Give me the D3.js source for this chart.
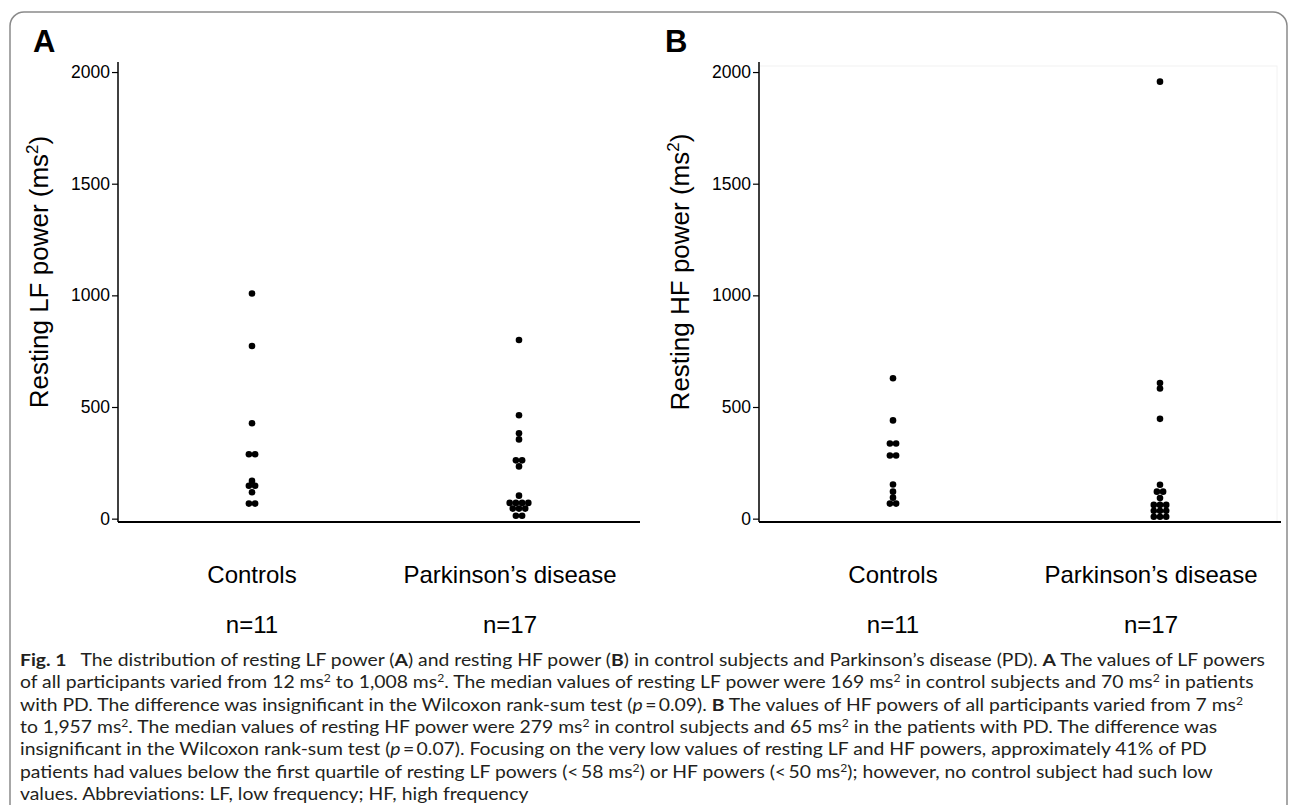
<!DOCTYPE html>
<meta charset="utf-8">
<script src="https://d3js.org/d3.v7.min.js" charset="utf-8"></script>
<style>
  body { margin: 0; background: #fff; }
</style>
<body>
<div id="draw"></div>

<script>

  // ---- data ----
  var categories = ["Controls", "Parkinson\u2019s disease"];
  var groupSizes = ["n=11", "n=17"];
  var yTicks = [0, 500, 1000, 1500, 2000];

  var lfControls  = [66, 69, 118, 145, 150, 169, 285, 292, 427, 773, 1008];
  var lfParkinson = [12, 14, 42, 45, 48, 66, 70, 72, 75, 103, 234, 258, 264, 355, 382, 463, 800];
  var hfControls  = [65, 70, 94, 121, 153, 279, 286, 333, 340, 440, 629];
  var hfParkinson = [7, 8, 10, 32, 35, 38, 58, 62, 65, 92, 118, 124, 152, 447, 583, 607, 1957];

  var panelLetters = ["A", "B"];
  var yTitles = ["Resting LF power (ms", "Resting HF power (ms"];

  // caption, one entry per printed line; **bold**, _italic_, ^2 superscript
  var captionLines = [
    "**Fig. 1**\u2002 The distribution of resting LF power (**A**) and resting HF power (**B**) in control subjects and Parkinson\u2019s disease (PD). **A** The values of LF powers",
    "of all participants varied from 12 ms^2 to 1,008 ms^2. The median values of resting LF power were 169 ms^2 in control subjects and 70 ms^2 in patients",
    "with PD. The difference was insignificant in the Wilcoxon rank-sum test (_p_\u2009=\u20090.09). **B** The values of HF powers of all participants varied from 7 ms^2",
    "to 1,957 ms^2. The median values of resting HF power were 279 ms^2 in control subjects and 65 ms^2 in the patients with PD. The difference was",
    "insignificant in the Wilcoxon rank-sum test (_p_\u2009=\u20090.07). Focusing on the very low values of resting LF and HF powers, approximately 41% of PD",
    "patients had values below the first quartile of resting LF powers (<\u200958 ms^2) or HF powers (<\u200950 ms^2); however, no control subject had such low",
    "values. Abbreviations: LF, low frequency; HF, high frequency"
  ];

  var width = 1290;
  var height = 805;
  var margins = {top: 62, bottom: 283, left: 118, right: 650}; // per panel
  var panelOffset = 641;
  var plotWidth = 522;
  var plotHeight = height - margins.top - margins.bottom; // 460

  var svg = d3.select("#draw")
    .append("svg")
    .attr("width", width)
    .attr("height", height)
    .style("font-family", "'Liberation Sans', Arial, sans-serif");

  // outer rounded frame
  svg.append("rect")
    .attr("x", 10).attr("y", 12)
    .attr("width", 1277).attr("height", 830)
    .attr("rx", 14)
    .attr("fill", "none")
    .attr("stroke", "#8a8a8a")
    .attr("stroke-width", 1.5);

  var y = d3.scaleLinear().domain([-15, 2045]).range([plotHeight, 0]);
  var x = d3.scalePoint().domain(categories).range([134, 401]);

  // dotplot binning (dot density, stacked centred)
  var binDots = function(values, w) {
    var s = values.slice().sort(function(a, b) { return a - b; });
    var bins = [], cur = null;
    s.forEach(function(v) {
      if (!cur || v >= cur.start + w) { cur = {start: v, vals: []}; bins.push(cur); }
      cur.vals.push(v);
    });
    var out = [];
    bins.forEach(function(b) {
      var c = (b.vals[0] + b.vals[b.vals.length - 1]) / 2;
      b.vals.forEach(function(v, i) {
        out.push({value: v, center: c, k: i - (b.vals.length - 1) / 2});
      });
    });
    return out;
  };

  var drawPanel = function(p, series) {
    var g = svg.append("g")
      .attr("transform", "translate(" + (margins.left + p * panelOffset) + "," + margins.top + ")");

    // panel letter
    svg.append("text")
      .attr("x", 33 + p * 632).attr("y", 52)
      .attr("font-size", 31).attr("font-weight", "bold")
      .text(panelLetters[p]);

    if (p === 1) {
      g.append("rect")
        .attr("x", 0).attr("y", 4)
        .attr("width", plotWidth - 4).attr("height", plotHeight - 4)
        .attr("fill", "none").attr("stroke", "#f2f2f2");
    }

    var yAxis = d3.axisLeft(y).tickValues(yTicks).tickSize(6).tickPadding(2).tickFormat(d3.format("d"));
    var ya = g.append("g").call(yAxis);
    ya.select(".domain").attr("stroke-width", 1.5).attr("d", "M0," + plotHeight + "V0");
    ya.selectAll(".tick line").attr("stroke-width", 1.2);
    ya.selectAll(".tick text").attr("font-size", 17.5).attr("fill", "#000")
      .style("font-family", "'Liberation Sans', Arial, sans-serif");

    // x axis line
    g.append("line")
      .attr("x1", 0).attr("x2", plotWidth)
      .attr("y1", plotHeight).attr("y2", plotHeight)
      .attr("stroke", "#000").attr("stroke-width", 2.2);

    // y title
    var t = g.append("text")
      .attr("transform", "translate(-70," + (plotHeight / 2 - 20) + ") rotate(-90)")
      .attr("text-anchor", "middle")
      .attr("font-size", 26);
    t.append("tspan").text(yTitles[p]);
    t.append("tspan").attr("dy", -10).attr("font-size", 17).text("2");
    t.append("tspan").attr("dy", 10).text(")");

    // dots
    series.forEach(function(vals, ci) {
      var dots = binDots(vals, 20);
      g.selectAll(".dot" + ci)
        .data(dots)
        .enter().append("circle")
        .attr("cx", function(d) { return x(categories[ci]) + d.k * 6.2; })
        .attr("cy", function(d) { return y(d.center); })
        .attr("r", 3.3)
        .attr("fill", "#000");
    });

    // category labels and group sizes
    var lx = function(d, i) { return x(d) - (i === 1 ? 9 : 0); };
    g.selectAll(".cat")
      .data(categories)
      .enter().append("text")
      .attr("x", lx).attr("y", plotHeight + 61)
      .attr("text-anchor", "middle").attr("font-size", 24)
      .text(function(d) { return d; });
    g.selectAll(".n")
      .data(categories)
      .enter().append("text")
      .attr("x", lx).attr("y", plotHeight + 111)
      .attr("text-anchor", "middle").attr("font-size", 24)
      .text(function(d, i) { return groupSizes[i]; });
  };

  drawPanel(0, [lfControls, lfParkinson]);
  drawPanel(1, [hfControls, hfParkinson]);

  // caption
  var cap = svg.append("g")
    .style("font-family", "Lato, 'Open Sans', sans-serif")
    .attr("font-size", 17.5)
    .attr("fill", "#231f20");

  var capTexts = captionLines.map(function(line, li) {
    var txt = cap.append("text")
      .attr("x", 20).attr("y", 666 + li * 22.3);
    var parts = line.split(/(\*\*[^*]+\*\*|_[^_]+_|\^2)/).filter(function(s) { return s.length; });
    var raised = false;
    parts.forEach(function(s) {
      var ts = txt.append("tspan");
      if (raised) { ts.attr("dy", 6); raised = false; }
      if (s.indexOf("**") === 0) {
        ts.attr("font-weight", "bold").text(s.slice(2, -2));
      } else if (s[0] === "_") {
        ts.attr("font-style", "italic").text(s.slice(1, -1));
      } else if (s === "^2") {
        ts.attr("dy", -6).attr("font-size", 11).text("2");
        raised = true;
      } else {
        ts.text(s);
      }
    });
    return txt;
  });

  // squeeze all lines by the same factor so the first one spans the page like the print
  var lens = capTexts.map(function(t) { return t.node().getComputedTextLength(); });
  var factor = 1245 / lens[0];
  capTexts.forEach(function(t, i) {
    t.attr("textLength", lens[i] * factor).attr("lengthAdjust", "spacingAndGlyphs");
  });

</script>
</body>
